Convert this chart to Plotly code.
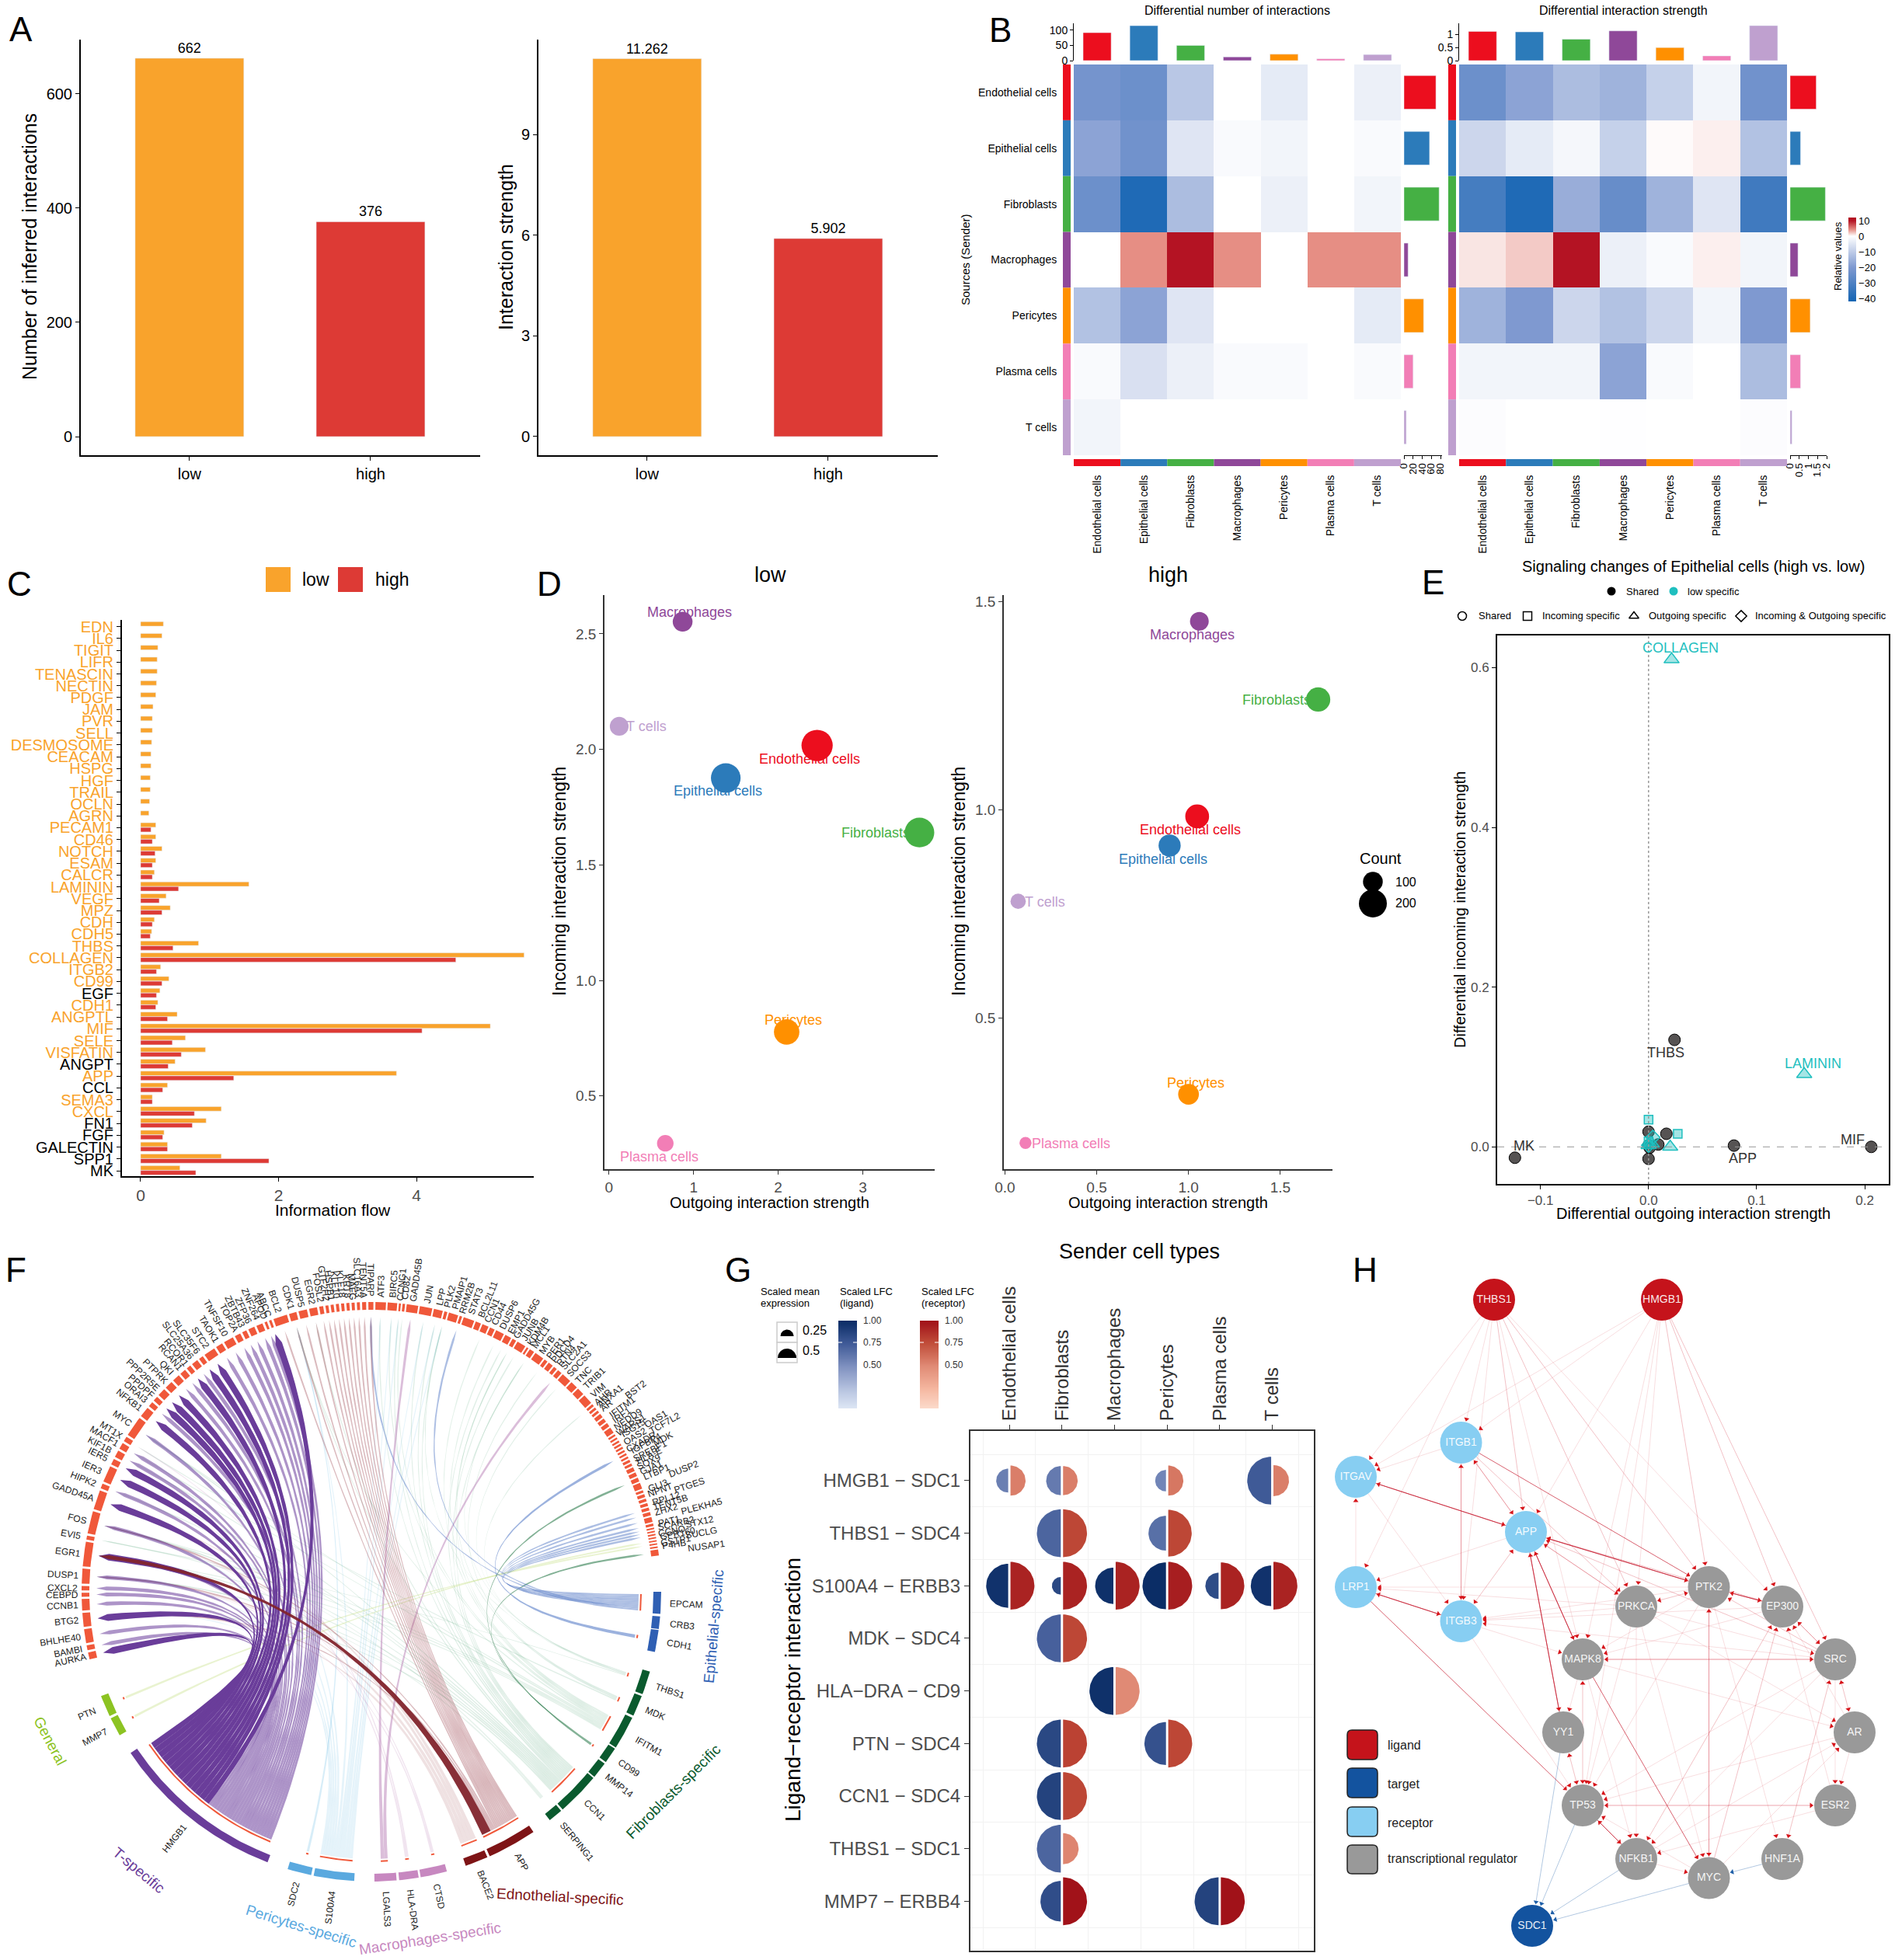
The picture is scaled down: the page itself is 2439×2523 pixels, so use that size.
import math
import plotly.graph_objects as go
from plotly.colors import sample_colorscale

W, H = 2439, 2523
FONT = "Liberation Sans"

## Panel A ##
groups = ["low", "high"]
interaction_count = [662, 376]
interaction_strength = [11.262, 5.902]
group_colors = ["#F9A32C", "#DD3A35"]

## Panel B ##
cell_types = ["Endothelial cells", "Epithelial cells", "Fibroblasts", "Macrophages", "Pericytes", "Plasma cells", "T cells"]
cell_colors = ["#EC0E1E", "#2C7BBA", "#45B044", "#8F4899", "#FF9000", "#F27EB6", "#BFA0CF"]
diff_number = [
    [-22, -24, -11, 0, -4, 0, -3],
    [-18, -23, -5, -1, -2, 0, -1],
    [-24, -40, -13, 0, -3, 0, -2],
    [0, 4.3, 10, 4.3, 0, 4.3, 4.3],
    [-12, -18, -5, 0, 0, 0, -4],
    [-1, -6, -3, -1, -1, 0, -1],
    [-2, 0, 0, 0, 0, 0, 0],
]
diff_strength = [
    [-24, -18, -13, -15, -9, -2, -23],
    [-8, -4, -1.5, -9, 0.2, 0.6, -12],
    [-32, -40, -16, -25, -15, -5, -33],
    [1, 2, 10, -3, -1, 0.6, -2],
    [-15, -20, -8, -12, -8, -2, -20],
    [-2, -2, -2, -18, -1, 0, -13],
    [-0.5, 0, 0, -0.2, 0, 0, -0.5],
]
number_top = [92, 115, 50, 12, 21, 6, 20]
number_side = [70, 56, 77, 9, 43, 20, 5]
strength_top = [1.12, 1.1, 0.82, 1.14, 0.5, 0.18, 1.34]
strength_side = [1.43, 0.57, 1.93, 0.43, 1.1, 0.57, 0.1]

## Panel C ##
pathways = ["EDN", "IL6", "TIGIT", "LIFR", "TENASCIN", "NECTIN", "PDGF", "JAM", "PVR", "SELL", "DESMOSOME", "CEACAM",
            "HSPG", "HGF", "TRAIL", "OCLN", "AGRN", "PECAM1", "CD46", "NOTCH", "ESAM", "CALCR", "LAMININ", "VEGF", "MPZ",
            "CDH", "CDH5", "THBS", "COLLAGEN", "ITGB2", "CD99", "EGF", "CDH1", "ANGPTL", "MIF", "SELE", "VISFATIN",
            "ANGPT", "APP", "CCL", "SEMA3", "CXCL", "FN1", "FGF", "GALECTIN", "SPP1", "MK"]
black_pathways = ["EGF", "ANGPT", "CCL", "FN1", "FGF", "GALECTIN", "SPP1", "MK"]
flow_low = [0.33, 0.31, 0.25, 0.24, 0.24, 0.23, 0.22, 0.18, 0.17, 0.17, 0.16, 0.15, 0.15, 0.14, 0.14, 0.13, 0.12,
            0.22, 0.22, 0.31, 0.22, 0.2, 1.57, 0.37, 0.43, 0.2, 0.16, 0.84, 5.56, 0.29, 0.41, 0.28, 0.25, 0.53, 5.07,
            0.65, 0.94, 0.5, 3.71, 0.39, 0.17, 1.17, 0.95, 0.34, 0.39, 1.17, 0.57]
flow_high = [None] * 17 + [0.15, 0.17, 0.21, 0.17, 0.17, 0.55, 0.27, 0.31, 0.17, 0.14, 0.47, 4.57, 0.23, 0.31, 0.23,
                           0.22, 0.39, 4.08, 0.46, 0.59, 0.4, 1.35, 0.32, 0.17, 0.78, 0.75, 0.32, 0.39, 1.86, 0.8]

## Panel D ##
low_out = [2.46, 1.38, 3.67, 0.87, 2.10, 0.665, 0.12]
low_in = [2.017, 1.876, 1.64, 2.553, 0.777, 0.295, 2.10]
low_count = [250, 225, 225, 100, 165, 70, 90]
low_label_x = [2.37, 1.29, 3.15, 0.95, 2.18, 0.59, 0.44]
low_label_y = [1.96, 1.82, 1.64, 2.594, 0.83, 0.236, 2.10]
high_out = [1.047, 0.897, 1.706, 1.059, 1.0, 0.112, 0.072]
high_in = [0.984, 0.914, 1.265, 1.453, 0.316, 0.199, 0.78]
high_count = [145, 125, 150, 90, 110, 37, 60]
high_label_x = [1.01, 0.86, 1.48, 1.02, 1.04, 0.36, 0.22]
high_label_y = [0.952, 0.881, 1.264, 1.421, 0.344, 0.197, 0.778]
legend_count = [100, 200]

## Panel E ##
shared_x = [-0.1236, 0.024, 0.079, 0.206, 0.0, 0.0, 0.0165, 0.009, 0.0, 0.001]
shared_y = [-0.0136, 0.134, 0.0016, 0.0, -0.015, 0.019, 0.0164, 0.003, 0.002, -0.001]
triangle_x = [0.0213, 0.144, 0.02, 0.0, 0.003]
triangle_y = [0.6104, 0.091, 0.0, 0.002, 0.004]
square_x = [0.0, 0.027, 0.0]
square_y = [0.034, 0.0164, 0.007]
diamond_x = [0.004, 0.0]
diamond_y = [0.012, 0.002]
e_labels = ["COLLAGEN", "LAMININ", "THBS", "MK", "APP", "MIF"]
e_label_x = [0.0293, 0.152, 0.016, -0.115, 0.087, 0.189]
e_label_y = [0.625, 0.104, 0.118, 0.001, -0.014, 0.0095]
e_label_colors = ["#1FBFBF", "#1FBFBF", "#333333", "#333333", "#333333", "#333333"]

## Panel F ##
left_genes = ["AURKA", "BAMBI", "BHLHE40", "BTG2", "CCNB1", "CEBPD", "CXCL2", "DUSP1", "EGR1", "EVI5", "FOS", "GADD45A",
              "HIPK2", "IER3", "IER5", "KIF1B", "MACF1", "MT1X", "MYC", "NFKB1", "ORAI3", "PPDPF", "PPP2R5E", "PTPRK",
              "QKI", "RCAN1", "RCOR1", "SLC25A36", "SLC35F6", "STC2", "TAOK1", "TNFSF10", "TOP2A", "ZBTB43", "ZFP36",
              "ZNF264", "APOD", "ABCC", "BCL2", "CDK1", "DUSP5", "EGR2", "FOSL2", "GTF2H2", "HSPB1", "KLF10", "KLF18",
              "KRT8", "MAFG", "SLC16A3", "TENT5A", "TIPARP"]
left_widths = [1.4, 1.0, 2.8, 2.8, 2.3, 0.8, 0.9, 3.0, 4.9, 0.8, 4.5, 3.9, 1.0, 3.3, 1.2, 1.4, 1.3, 1.0, 4.1, 2.1, 1.0,
               1.0, 1.6, 1.6, 1.5, 1.2, 0.9, 1.3, 0.9, 2.3, 1.4, 2.0, 1.2, 0.9, 1.3, 1.3, 0.5, 0.5, 2.8, 1.5, 1.7, 1.6,
               0.8, 0.6, 0.6, 0.6, 0.6, 0.6, 0.6, 0.6, 0.8, 1.0]
right_genes = ["ATF3", "BIRC5", "CCNG1", "CD82", "GADD45B", "JUN", "LPP", "PLK2", "PMAIP1", "RRM2B", "STAT3", "BCL2L11",
               "CCN1", "CD44", "DUSP6", "EMP1", "GADD45G", "JUNB", "KDM4B", "MCL1", "MYB", "PER1", "PDCD4", "RTN4",
               "SLC2A1", "SOCS3", "TNC", "TRIB1", "VIM", "AHR", "ANXA1", "AR", "BST2", "IFITM1", "IRF1", "NEDD9", "WARS1",
               "ISG15", "OAS1", "OAS2", "TCF7L2", "CXADR", "IGFBP4", "MDK", "SREBF1", "HLA-E", "SOX9", "GJA1", "LTBP1",
               "DUSP2", "GLI3", "NPNT", "PTGES", "RPL12", "TENT5B", "ZHX2", "PLEKHA5", "PAT1", "SCARB2", "STX12", "CCNO",
               "GPR160", "SUCLG", "GSTP1", "P4HB", "NUSAP1"]
right_widths = [2.1, 1.9, 0.4, 0.5, 2.3, 2.5, 1.8, 0.6, 1.9, 0.5, 2.2, 1.1, 1.3, 1.0, 1.7, 1.3, 0.8, 1.8, 0.4, 1.0, 1.9,
                0.7, 1.0, 0.7, 0.9, 2.0, 1.5, 1.5, 2.0, 0.5, 0.5, 0.5, 0.8, 0.8, 0.8, 1.2, 0.4, 0.4, 0.4, 0.4, 0.4, 0.4,
                0.4, 0.4, 0.5, 0.5, 0.8, 0.8, 0.8, 1.2, 0.5, 0.6, 0.6, 0.6, 0.6, 0.7, 1.0, 0.5, 0.3, 0.3, 0.3, 0.3, 0.3,
                0.3, 0.3, 1.2]
far_genes = ["BST2", "OAS1", "TCF7L2", "MDK", "DUSP2", "PTGES", "PLEKHA5", "STX12", "SUCLG", "NUSAP1"]
source_genes = ["EPCAM", "CRB3", "CDH1", "THBS1", "MDK", "IFITM1", "CD99", "MMP14", "CCN1", "SERPING1", "APP", "BACE2",
                "CTSD", "HLA-DRA", "LGALS3", "S100A4", "SDC2", "HMGB1", "MMP7", "PTN"]
source_start = [90.0, 94.9, 97.6, 106.0, 111.1, 115.8, 122.8, 126.4, 130.0, 139.1, 146.0, 156.4, 164.9, 170.6, 175.0, 183.4, 192.0, 201.0, 240.3, 244.6]
source_end = [94.4, 97.4, 102.0, 110.7, 115.3, 122.5, 126.0, 129.7, 138.7, 142.0, 155.9, 161.0, 170.2, 174.5, 179.4, 191.5, 196.8, 236.2, 244.1, 248.9]
source_colors = ["#2F5FB3"] * 3 + ["#0A5A2E"] * 7 + ["#7E1416"] * 2 + ["#C788C0"] * 3 + ["#5AA9DF"] * 2 + ["#6A3D9A"] + ["#8CC322"] * 2
hmgb1_dark = ["AURKA", "BTG2", "EGR1", "GADD45A", "IER3", "IER5", "NFKB1", "PPDPF", "PPP2R5E", "PTPRK", "RCOR1", "SLC35F6", "STC2", "ABCC"]
hmgb1_light = ["BAMBI", "BHLHE40", "CCNB1", "CEBPD", "CXCL2", "DUSP1", "EGR1", "FOS", "GADD45A", "HIPK2", "KIF1B", "MACF1", "MYC",
               "ORAI3", "QKI", "RCAN1", "SLC25A36", "TAOK1", "TNFSF10", "TOP2A", "ZBTB43", "ZFP36", "ZNF264", "APOD"]
app_top = ["BCL2", "CDK1", "DUSP5", "EGR2", "FOSL2", "GTF2H2", "HSPB1", "KLF10", "KLF18", "KRT8", "MAFG", "SLC16A3", "TENT5A", "TIPARP", "FOS", "DUSP1", "BTG2"]
s100a4_links = ["ATF3", "BIRC5", "CCNG1", "JUN", "LPP", "MYC", "IER3", "FOS", "DUSP1", "CDK1", "BTG2", "PLK2"]
epcam_links = ["TENT5B", "ZHX2", "PLEKHA5", "PAT1", "SCARB2", "STX12", "CCNO", "RRM2B", "TIPARP"]
ccn1_links = ["ATF3", "CCNG1", "JUN", "LPP", "PLK2", "EMP1", "JUNB", "CDK1", "EGR2", "IER3", "FOS", "EGR1", "MYC", "KIF1B", "HIPK2", "BTG2", "DUSP1", "MCL1"]
ifitm1_links = ["BIRC5", "CD82", "CCN1", "DUSP6", "GADD45G", "EVI5", "FOS", "MYC", "MACF1", "EGR1", "CDK1"]
chord_groups = ["General", "T-specific", "Pericytes-specific", "Macrophages-specific", "Ednothelial-specific", "Fibroblasts-specific", "Epithelial-specific"]

## Panel G ##
senders = ["Endothelial cells", "Fibroblasts", "Macrophages", "Pericytes", "Plasma cells", "T cells"]
lr_pairs = ["HMGB1 \u2212 SDC1", "THBS1 \u2212 SDC4", "S100A4 \u2212 ERBB3", "MDK \u2212 SDC4", "HLA\u2212DRA \u2212 CD9",
            "PTN \u2212 SDC4", "CCN1 \u2212 SDC4", "THBS1 \u2212 SDC1", "MMP7 \u2212 ERBB4"]
lr_row = [0, 0, 0, 0, 1, 1, 2, 2, 2, 2, 2, 2, 3, 4, 5, 5, 6, 7, 8, 8]
lr_col = [0, 1, 3, 5, 1, 3, 0, 1, 2, 3, 4, 5, 1, 2, 1, 3, 1, 1, 1, 4]
ligand_expr = [0.5, 0.61, 0.45, 1.0, 1.0, 0.73, 0.92, 0.37, 0.76, 0.98, 0.55, 0.85, 1.0, 1.0, 1.0, 0.9, 1.0, 1.0, 0.85, 1.0]
receptor_expr = [0.63, 0.61, 0.63, 0.65, 1.0, 0.98, 1.0, 1.0, 1.0, 1.0, 0.98, 1.0, 1.0, 1.0, 1.0, 1.0, 1.0, 0.65, 1.0, 1.0]
ligand_lfc = [0.58, 0.6, 0.55, 0.75, 0.7, 0.65, 0.97, 0.85, 0.98, 1.0, 0.83, 0.97, 0.72, 0.98, 0.85, 0.8, 0.88, 0.7, 0.82, 0.88]
receptor_lfc = [0.55, 0.55, 0.58, 0.55, 0.78, 0.78, 0.93, 0.93, 0.93, 0.95, 0.93, 0.93, 0.78, 0.5, 0.8, 0.78, 0.78, 0.52, 1.0, 1.0]
lfc_levels = [1.0, 0.9, 0.8, 0.7, 0.6, 0.5, 0.4, 0.3, 0.2, 0.1, 0.03]

## Panel H ##
node_names = ["THBS1", "HMGB1", "ITGB1", "ITGAV", "APP", "LRP1", "ITGB3", "PTK2", "PRKCA", "EP300", "MAPK8", "SRC", "YY1",
              "AR", "TP53", "ESR2", "NFKB1", "HNF1A", "MYC", "SDC1"]
node_x = [1923, 2139, 1880.5, 1745, 1964, 1745, 1880.5, 2199.5, 2106, 2294, 2037, 2362, 2012, 2387, 2037, 2362, 2106, 2294, 2199.5, 1972]
node_y = [1673, 1673, 1857, 1901, 1972, 2043, 2087, 2043, 2068, 2068, 2136, 2136, 2230, 2230, 2324, 2324, 2393, 2393, 2417.5, 2479]
node_kind = ["ligand"] * 2 + ["receptor"] * 5 + ["transcriptional regulator"] * 12 + ["target"]
kind_colors = {"ligand": "#C5131B", "target": "#13539F", "receptor": "#87CEF2", "transcriptional regulator": "#999999"}
faint_edges = [("THBS1", "ITGAV"), ("THBS1", "LRP1"), ("THBS1", "ITGB1"), ("THBS1", "ITGB3"), ("THBS1", "MAPK8"), ("THBS1", "EP300"),
               ("HMGB1", "ITGAV"), ("HMGB1", "ITGB1"), ("HMGB1", "APP"), ("HMGB1", "MAPK8"), ("HMGB1", "TP53"), ("HMGB1", "PRKCA"),
               ("ITGB1", "ITGAV"), ("ITGAV", "ITGB3"), ("LRP1", "ITGAV"), ("APP", "LRP1"), ("APP", "ITGB3"), ("ITGB3", "APP"),
               ("PRKCA", "LRP1"), ("PTK2", "LRP1"), ("ITGB3", "MAPK8"), ("ITGB3", "TP53"), ("PRKCA", "ITGB3"), ("PTK2", "ITGB3"),
               ("EP300", "ITGB3"), ("SRC", "ITGB3"), ("PTK2", "PRKCA"), ("PRKCA", "PTK2"), ("PTK2", "MAPK8"), ("PTK2", "TP53"),
               ("EP300", "MAPK8"), ("NFKB1", "EP300"), ("ESR2", "EP300"), ("PRKCA", "TP53"), ("PRKCA", "NFKB1"), ("PRKCA", "MYC"),
               ("PRKCA", "SRC"), ("PRKCA", "AR"), ("MAPK8", "NFKB1"), ("MAPK8", "TP53"), ("MAPK8", "YY1"), ("MAPK8", "AR"),
               ("SRC", "TP53"), ("SRC", "NFKB1"), ("SRC", "ESR2"), ("AR", "EP300"), ("AR", "ESR2"), ("AR", "TP53"), ("NFKB1", "AR"),
               ("MYC", "AR"), ("ESR2", "TP53"), ("MYC", "TP53"), ("NFKB1", "MYC"), ("ESR2", "NFKB1"), ("YY1", "TP53"), ("TP53", "YY1"),
               ("SRC", "AR"), ("AR", "SRC"), ("HNF1A", "SRC"), ("PTK2", "HNF1A"), ("SRC", "HNF1A"), ("EP300", "NFKB1"), ("TP53", "MAPK8")]
mid_edges = [("THBS1", "APP"), ("THBS1", "PTK2"), ("THBS1", "PRKCA"), ("HMGB1", "PTK2"), ("HMGB1", "EP300"), ("HMGB1", "SRC"),
             ("ITGB1", "APP"), ("APP", "ITGB1"), ("ITGB1", "ITGB3"), ("ITGB3", "ITGB1"), ("ITGB1", "PRKCA"), ("APP", "PRKCA"),
             ("PRKCA", "APP"), ("EP300", "APP"), ("SRC", "APP"), ("MYC", "PTK2"), ("PTK2", "MYC"), ("MYC", "EP300"), ("SRC", "PTK2"),
             ("SRC", "MAPK8"), ("MAPK8", "SRC"), ("EP300", "SRC"), ("SRC", "EP300"), ("TP53", "ESR2")]
strong_edges = [("ITGAV", "APP"), ("APP", "ITGAV"), ("ITGB1", "PTK2"), ("APP", "PTK2"), ("PTK2", "APP"), ("APP", "MAPK8"), ("MAPK8", "APP"),
                ("APP", "YY1"), ("YY1", "APP"), ("LRP1", "ITGB3"), ("ITGB3", "LRP1"), ("LRP1", "TP53"), ("PTK2", "EP300"), ("EP300", "PTK2"),
                ("MAPK8", "MYC"), ("TP53", "NFKB1"), ("NFKB1", "TP53")]
blue_edges = [("YY1", "SDC1"), ("TP53", "SDC1"), ("NFKB1", "SDC1"), ("MYC", "SDC1"), ("HNF1A", "MYC")]

ALL_AXES = {}
fig = go.Figure()
shapes = []
notes = []
n_axes = 0


def axes(x0, x1, y0, y1, xr, yr, xkw=None, ykw=None):
    # one pair of axes placed in page pixels
    global n_axes
    n_axes += 1
    s = "" if n_axes == 1 else str(n_axes)
    xa = dict(domain=[x0 / W, x1 / W], range=xr, showgrid=False, zeroline=False, anchor="y" + s, fixedrange=True, visible=False)
    ya = dict(domain=[1 - y1 / H, 1 - y0 / H], range=yr, showgrid=False, zeroline=False, anchor="x" + s, fixedrange=True, visible=False)
    xa.update(xkw or {})
    ya.update(ykw or {})
    ALL_AXES["xaxis" + s] = xa
    ALL_AXES["yaxis" + s] = ya
    return "x" + s, "y" + s


def note(x, y, text, size=16, color="black", angle=0, anchor="center", va="middle"):
    notes.append(dict(x=x / W, y=1 - y / H, xref="paper", yref="paper", text=text, showarrow=False, textangle=angle,
                      xanchor=anchor, yanchor=va, font=dict(size=size, color=color, family=FONT)))


def axis_style(size=18, color="#4d4d4d", line="black", width=2, **kw):
    d = dict(visible=True, showline=True, linecolor=line, linewidth=width, ticks="outside", ticklen=5, tickcolor=line,
             tickfont=dict(size=size, color=color, family=FONT))
    d.update(kw)
    return d


def page_rect(x0, y0, x1, y1, fill, line=None, rounded=False, layer="above"):
    if rounded:
        r = 6
        X0, X1, a, b = x0 / W, x1 / W, 1 - y0 / H, 1 - y1 / H
        dx, dy = r / W, r / H
        path = (f"M {X0+dx} {a} L {X1-dx} {a} Q {X1} {a} {X1} {a-dy} L {X1} {b+dy} Q {X1} {b} {X1-dx} {b} "
                f"L {X0+dx} {b} Q {X0} {b} {X0} {b+dy} L {X0} {a-dy} Q {X0} {a} {X0+dx} {a} Z")
        shapes.append(dict(type="path", path=path, xref="paper", yref="paper", fillcolor=fill, line=dict(color=line or fill, width=1.5)))
    else:
        shapes.append(dict(type="rect", xref="paper", yref="paper", x0=x0 / W, x1=x1 / W, y0=1 - y0 / H, y1=1 - y1 / H, layer=layer,
                           fillcolor=fill, line=dict(color=line or fill, width=1.5 if line else 0)))


## A ##
xa, ya = axes(104, 618, 51, 586, [-0.6, 1.605], [-32.6, 694.6],
              axis_style(size=20, color="black", tickvals=[0, 1], ticktext=groups),
              axis_style(size=20, color="black", tickvals=[0, 200, 400, 600]))
fig.add_trace(go.Bar(x=[0, 1], y=interaction_count, width=0.6, marker_color=group_colors, text=interaction_count, textposition="outside",
                     textfont=dict(size=18, family=FONT, color="black"), cliponaxis=False, xaxis=xa, yaxis=ya))
xa, ya = axes(693, 1207, 51, 586, [-0.6, 1.605], [-0.556, 11.83],
              axis_style(size=20, color="black", tickvals=[0, 1], ticktext=groups),
              axis_style(size=20, color="black", tickvals=[0, 3, 6, 9]))
fig.add_trace(go.Bar(x=[0, 1], y=interaction_strength, width=0.6, marker_color=group_colors, text=["11.262", "5.902"], textposition="outside",
                     textfont=dict(size=18, family=FONT, color="black"), cliponaxis=False, xaxis=xa, yaxis=ya))
note(38, 318, "Number of inferred interactions", 25, angle=-90)
note(651, 318, "Interaction strength", 25, angle=-90)

## B ##
blue_red = [[0, "#1565B3"], [0.407, "#7F99D0"], [0.778, "#FFFFFF"], [0.857, "#E68E84"], [0.963, "#B41323"], [1, "#B41323"]]
for k, (x0, x1, z, top, side, top_max, side_max, top_ticks, side_ticks, side_x1) in enumerate([
        (1382, 1803, diff_number, number_top, number_side, 123, 83.4, [0, 50, 100], [0, 20, 40, 60, 80], 1856),
        (1878, 2300, diff_strength, strength_top, strength_side, 1.43, 2.0, [0, 0.5, 1], [0, 0.5, 1, 1.5, 2], 2351)]):
    ykw = dict(visible=True, showline=False, type="category", categoryorder="array", categoryarray=cell_types,
               showticklabels=(k == 0), ticks="outside", ticklen=18, tickcolor="rgba(0,0,0,0)",
               tickfont=dict(size=14, color="black", family=FONT))
    xkw = dict(visible=True, showline=False, type="category", categoryorder="array", categoryarray=cell_types, tickangle=-90,
               ticks="outside", ticklen=19, tickcolor="rgba(0,0,0,0)", tickfont=dict(size=14, color="black", family=FONT))
    xa, ya = axes(x0, x1, 83, 586, [-0.5, 6.5], [6.5, -0.5], xkw, ykw)
    trace = go.Heatmap(z=z, x=cell_types, y=cell_types, colorscale=blue_red, zmin=-42, zmax=12, xaxis=xa, yaxis=ya, showscale=(k == 0))
    if k == 0:
        trace.colorbar = dict(x=2379 / W, xanchor="left", y=1 - 334 / H, yanchor="middle", lenmode="pixels", len=108, thickness=10,
                              xpad=0, ypad=0, outlinewidth=0, ticks="", tickvals=[-40, -30, -20, -10, 0, 10],
                              tickfont=dict(size=13, color="black", family=FONT))
    fig.add_trace(trace)
    for i, col in enumerate(cell_colors):
        shapes.append(dict(type="rect", xref=xa, yref="paper", x0=i - 0.5, x1=i + 0.5, y0=1 - 600 / H, y1=1 - 591 / H, fillcolor=col, line_width=0))
        shapes.append(dict(type="rect", xref="paper", yref=ya, x0=(x0 - 14) / W, x1=(x0 - 4) / W, y0=i - 0.5, y1=i + 0.5, fillcolor=col, line_width=0))
    xt, yt = axes(x0, x1, 30, 78, [-0.5, 6.5], [0, top_max], dict(visible=False),
                  axis_style(size=14, color="black", width=1, tickvals=top_ticks, ticklen=4))
    fig.add_trace(go.Bar(x=list(range(7)), y=top, width=0.6, marker_color=cell_colors, xaxis=xt, yaxis=yt))
    xs, ys = axes(x1 + 4, side_x1, 83, 586, [0, side_max], [6.5, -0.5],
                  axis_style(size=13, color="black", width=1, tickvals=side_ticks, tickangle=-90, ticklen=4), dict(visible=False))
    fig.add_trace(go.Bar(y=list(range(7)), x=side, orientation="h", width=0.6, marker_color=cell_colors, xaxis=xs, yaxis=ys))
note(1592, 13, "Differential number of interactions", 16)
note(2089, 13, "Differential interaction strength", 16)
note(1243, 334, "Sources (Sender)", 15, angle=-90)
note(2365, 330, "Relative values", 13, angle=-90)

## C ##
tick_html = [f'<span style="color:{"black" if p in black_pathways else "#F9A32C"}">{p}</span>' for p in pathways]
xa, ya = axes(157, 687, 797.5, 1514, [-0.27, 5.70], [46.46, -0.6],
              axis_style(size=21, tickvals=[0, 2, 4]),
              axis_style(size=20, color="black", type="category", categoryorder="array", categoryarray=pathways,
                         tickmode="array", tickvals=pathways, ticktext=tick_html))
fig.add_trace(go.Bar(y=pathways, x=flow_low, orientation="h", width=0.38, offset=-0.42, marker_color=group_colors[0], xaxis=xa, yaxis=ya))
fig.add_trace(go.Bar(y=pathways, x=flow_high, orientation="h", width=0.38, offset=-0.02, marker_color=group_colors[1], xaxis=xa, yaxis=ya))
page_rect(342, 730, 374, 762, group_colors[0])
page_rect(435, 730, 467, 762, group_colors[1])
note(387, 746, "low", 23, anchor="left")
note(481, 746, "high", 23, anchor="left")
note(428, 1557, "Information flow", 21)

## D ##
for x0, x1, xr, yr, xt, yt, xs, ys, cnt, lx, ly, ttl in [
        (778, 1203, [-0.054, 3.85], [0.183, 2.668], [0, 1, 2, 3], [0.5, 1.0, 1.5, 2.0, 2.5], low_out, low_in, low_count, low_label_x, low_label_y, "low"),
        (1292, 1715, [-0.006, 1.784], [0.136, 1.516], [0.0, 0.5, 1.0, 1.5], [0.5, 1.0, 1.5], high_out, high_in, high_count, high_label_x, high_label_y, "high")]:
    xa, ya = axes(x0, x1, 766, 1505, xr, yr,
                  axis_style(size=19, line="#333333", width=1.5, tickvals=xt, tickformat=".1f" if ttl == "high" else "d"),
                  axis_style(size=19, line="#333333", width=1.5, tickvals=yt, tickformat=".1f"))
    fig.add_trace(go.Scatter(x=xs, y=ys, mode="markers", xaxis=xa, yaxis=ya, cliponaxis=False,
                             marker=dict(size=cnt, sizemode="area", sizeref=1 / 3.24, color=cell_colors, opacity=1, line_width=0)))
    for name, c, px_, py_ in zip(cell_types, cell_colors, lx, ly):
        notes.append(dict(x=px_, y=py_, xref=xa, yref=ya, text=name, showarrow=False, font=dict(size=18, color=c, family=FONT)))
    note((x0 + x1) / 2 + 1 if ttl == "low" else (x0 + x1) / 2, 740, ttl, 27)
    note((x0 + x1) / 2, 1548, "Outgoing interaction strength", 20)
note(720, 1135, "Incoming interaction strength", 23, angle=-90)
note(1234, 1135, "Incoming interaction strength", 23, angle=-90)
xa, ya = axes(1750, 1784, 1120, 1178, [0, 1], [1, 0])
fig.add_trace(go.Scatter(x=[0.5, 0.5], y=[0.26, 0.74], mode="markers", xaxis=xa, yaxis=ya, cliponaxis=False,
                         marker=dict(size=legend_count, sizemode="area", sizeref=1 / 3.24, color="black", opacity=1, line_width=0)))
note(1777, 1105, "Count", 20)
note(1794, 1135, "100", 16, anchor="left")
note(1794, 1162, "200", 16, anchor="left")

## E ##
xa, ya = axes(1927, 2431, 818, 1524, [-0.14, 0.2222], [-0.0464, 0.6404],
              axis_style(size=17, mirror=True, tickvals=[-0.1, 0, 0.1, 0.2], tickformat=".1f"),
              axis_style(size=17, mirror=True, tickvals=[0, 0.2, 0.4, 0.6], tickformat=".1f"))
shapes.append(dict(type="line", xref=xa, yref=ya + " domain", x0=0, x1=0, y0=0, y1=1, line=dict(color="#999999", width=1.5, dash="dot")))
shapes.append(dict(type="line", xref=xa + " domain", yref=ya, x0=0, x1=1, y0=0, y1=0, line=dict(color="#999999", width=1, dash="dash")))
fig.add_trace(go.Scatter(x=shared_x, y=shared_y, mode="markers", xaxis=xa, yaxis=ya,
                         marker=dict(size=15, color="rgba(30,25,25,0.75)", line=dict(color="black", width=1))))
teal_fill, teal = "rgba(31,191,191,0.4)", "#1FBFBF"
for mx, my, sym, sz in [(square_x, square_y, "square", 11), (diamond_x, diamond_y, "diamond", 14), (triangle_x, triangle_y, "triangle-up", 17)]:
    fig.add_trace(go.Scatter(x=mx, y=my, mode="markers", xaxis=xa, yaxis=ya,
                             marker=dict(size=sz, symbol=sym, color=teal_fill, line=dict(color=teal, width=1.5))))
for t, lx, ly, c in zip(e_labels, e_label_x, e_label_y, e_label_colors):
    notes.append(dict(x=lx, y=ly, xref=xa, yref=ya, text=t, showarrow=False, font=dict(size=18, color=c, family=FONT)))
note(2179, 729, "Signaling changes of Epithelial cells (high vs. low)", 20)
note(2179, 1562, "Differential outgoing interaction strength", 20)
note(1879, 1171, "Differential incoming interaction strength", 20, angle=-90)
note(2114, 761, "Shared", 13)
note(2205, 761, "low specific", 13)
note(1924, 793, "Shared", 13)
note(2035, 793, "Incoming specific", 13)
note(2172, 793, "Outgoing specific", 13)
note(2343, 793, "Incoming &amp; Outgoing specific", 13)

## G ##
blue_scale = [[0, "#E4ECF8"], [0.25, "#B5C2DF"], [0.5, "#7E90BF"], [0.75, "#3F5A97"], [1, "#0B2D66"]]
red_scale = [[0, "#FDE0D2"], [0.25, "#F5B7A0"], [0.5, "#E08A75"], [0.75, "#C14E3A"], [1, "#A11219"]]
half_ticks = [i + 0.5 for i in range(-1, 6)]
xa, ya = axes(1249, 1691, 1842, 2511, [-0.74, 5.79], [8.94, -0.945],
              axis_style(size=24, color="#333333", line="#333333", side="top", mirror=True, tickangle=-90, tickvals=list(range(6)), ticktext=senders,
                         ticklen=6, showgrid=False, minor=dict(tickvals=half_ticks, showgrid=True, gridcolor="#F2F2F2", gridwidth=1, ticks="")),
              axis_style(size=24, color="#4d4d4d", line="#333333", mirror=True, tickvals=list(range(9)), ticktext=lr_pairs,
                         ticklen=6, minor=dict(tickvals=[i + 0.5 for i in range(-1, 9)], showgrid=True, gridcolor="#F2F2F2", gridwidth=1, ticks="")))


def half_disc(cx, cy, r, side, color, xa, ya):
    ts = [math.radians(90 + 180 * i / 40) for i in range(41)]
    xs = [cx + side * abs(math.cos(t)) * r for t in ts]
    ys = [cy + math.sin(t) * r for t in ts]
    fig.add_trace(go.Scatter(x=xs, y=ys, mode="lines", fill="toself", fillcolor=color, line=dict(width=0), xaxis=xa, yaxis=ya))


for r_, c_, le, re_, ll, rl in zip(lr_row, lr_col, ligand_expr, receptor_expr, ligand_lfc, receptor_lfc):
    half_disc(c_ - 0.022, r_, 0.455 * le, -1, sample_colorscale(blue_scale, [ll])[0], xa, ya)
    half_disc(c_ + 0.022, r_, 0.455 * re_, 1, sample_colorscale(red_scale, [rl])[0], xa, ya)
note(1466, 1611, "Sender cell types", 27)
note(1020, 2175, "Ligand\u2212receptor interaction", 28, angle=-90)
for x0, scale, label in [(1079, blue_scale, ["Scaled LFC", "(ligand)"]), (1184, red_scale, ["Scaled LFC", "(receptor)"])]:
    xb, yb = axes(x0, x0 + 24, 1700, 1813, [0, 1], [0.03, 1.0])
    fig.add_trace(go.Heatmap(z=[[v, v] for v in lfc_levels], y=lfc_levels, x=[0, 1], zsmooth="best", colorscale=scale, zmin=0, zmax=1, showscale=False, xaxis=xb, yaxis=yb))
    note(x0, 1662, label[0], 13, anchor="left")
    note(x0, 1677, label[1], 13, anchor="left")
    for t, yy in [("1.00", 1700), ("0.75", 1728), ("0.50", 1757)]:
        note(x0 + 30, yy, t, 12, color="#333333", anchor="left")
    shapes.append(dict(type="line", xref="paper", yref="paper", x0=x0 / W, x1=(x0 + 5) / W, y0=1 - 1728 / H, y1=1 - 1728 / H, line=dict(color="white", width=1)))
    shapes.append(dict(type="line", xref="paper", yref="paper", x0=(x0 + 19) / W, x1=(x0 + 24) / W, y0=1 - 1728 / H, y1=1 - 1728 / H, line=dict(color="white", width=1)))
note(977, 1662, "Scaled mean", 13, anchor="left")
note(977, 1677, "expression", 13, anchor="left")
page_rect(1000, 1702, 1026, 1728, "white", "#CCCCCC", layer="below")
page_rect(1000, 1728, 1026, 1754, "white", "#CCCCCC", layer="below")
note(1048, 1712, "0.25", 16)
note(1044, 1738, "0.5", 16)

## overlay in page pixels: panels F and H, legend keys ##
xp, yp = axes(0, W, 0, H, [0, W], [H, 0])

fig.add_trace(go.Scatter(x=[2074, 2154], y=[761, 761], mode="markers", xaxis=xp, yaxis=yp,
                         marker=dict(size=11, color=["black", teal])))
fig.add_trace(go.Scatter(x=[1882, 1966, 2103, 2241], y=[793, 793, 793, 793], mode="markers", xaxis=xp, yaxis=yp,
                         marker=dict(size=11, color="white", symbol=["circle", "square", "triangle-up", "diamond"], line=dict(color="black", width=1.5))))
for cy_, r_ in [(1720, 8.5), (1748, 12)]:
    ts = [math.pi + math.pi * i / 30 for i in range(31)]
    fig.add_trace(go.Scatter(x=[1013 + r_ * math.cos(t) for t in ts], y=[cy_ + r_ * math.sin(t) for t in ts], mode="lines", fill="toself",
                             fillcolor="black", line=dict(width=0), xaxis=xp, yaxis=yp))

CX, CY = 478, 2049
R_OUT, R_IN, R_ARC, R_SRC, R_TIP = 373, 363, 347, 344, 354
RING = "#F0583A"


def pol(theta, r):
    t = math.radians(theta)
    return CX + r * math.sin(t), CY - r * math.cos(t)


def band(a0, a1, r0, r1, color):
    n = max(3, int((a1 - a0) * 2))
    ang = [a0 + (a1 - a0) * i / n for i in range(n + 1)]
    pts = [pol(a, r1) for a in ang] + [pol(a, r0) for a in reversed(ang)]
    fig.add_trace(go.Scatter(x=[p[0] for p in pts], y=[p[1] for p in pts], mode="lines", fill="toself", fillcolor=color,
                             line=dict(width=0), xaxis=xp, yaxis=yp))


def curve(p, q, n=36):
    out = []
    for i in range(n + 1):
        t = i / n
        out.append(((1 - t) ** 2 * p[0] + 2 * t * (1 - t) * CX + t ** 2 * q[0], (1 - t) ** 2 * p[1] + 2 * t * (1 - t) * CY + t ** 2 * q[1]))
    return out


def ribbon(a0, a1, b, hw, color):
    dw = math.degrees(hw / R_TIP)
    p0, p1 = pol(a0, R_SRC), pol(a1, R_SRC)
    t_lo, t_hi = pol(b - dw, R_TIP - 13), pol(b + dw, R_TIP - 13)
    pts = curve(p1, t_lo) + [pol(b, R_TIP)] + list(reversed(curve(p0, t_hi)))
    fig.add_trace(go.Scatter(x=[p[0] for p in pts], y=[p[1] for p in pts], mode="lines", fill="toself", fillcolor=color,
                             line=dict(width=0), xaxis=xp, yaxis=yp))


def lay(genes, widths, start, end):
    gap = (end - start - sum(widths)) / (len(genes) - 1)
    out, a = {}, start
    for g, w_ in zip(genes, widths):
        out[g] = (a, a + w_)
        a += w_ + gap
    return out


ring = lay(left_genes, left_widths, 256.5, 360.4)
ring.update(lay(right_genes, right_widths, 360.8, 442.8))


def fan(a0, a1, targets, hw, color):
    # split a source arc between targets, nearest clockwise target first
    mid = (a0 + a1) / 2
    centres = [sum(ring[g]) / 2 for g in targets]
    order = sorted(range(len(targets)), key=lambda i: (centres[i] - mid) % 360)
    unit = (a1 - a0) / len(targets)
    hi = a1
    for i in order:
        lo = hi - unit
        ribbon(lo, hi, centres[i], hw, color)
        hi = lo


fan(140.0, 140.8, ["DUSP1", "FOS"], 0.6, "rgba(93,170,128,0.15)")
fan(107.5, 108.3, ["PLK2", "MCL1", "SOCS3", "AHR", "EVI5"], 0.7, "rgba(93,170,128,0.2)")
fan(113.0, 114.0, ["PER1", "GADD45G", "MT1X"], 0.7, "rgba(93,170,128,0.2)")
fan(117.5, 121.0, ifitm1_links, 0.8, "rgba(93,170,128,0.18)")
fan(131.0, 138.0, ccn1_links, 0.8, "rgba(93,170,128,0.2)")
fan(184.0, 191.0, s100a4_links, 0.8, "rgba(124,197,232,0.2)")
fan(193.5, 194.0, ["CDK1"], 0.8, "rgba(124,197,232,0.3)")
fan(166.5, 167.2, ["FOS", "DUSP1"], 0.7, "rgba(183,125,181,0.2)")
fan(172.0, 172.8, ["IER3", "MT1X"], 0.7, "rgba(183,125,181,0.2)")
fan(176.5, 178.0, ["GADD45B", "SLC2A1"], 1.8, "rgba(183,125,181,0.5)")
fan(157.0, 160.5, ["FOS", "DUSP1", "BTG2", "GADD45A"], 1.0, "rgba(176,106,112,0.2)")
fan(246.5, 247.0, ["GSTP1"], 1.2, "rgba(200,224,138,0.4)")
fan(242.0, 242.5, ["SUCLG"], 1.2, "rgba(200,224,138,0.4)")
fan(124.5, 125.0, ["LTBP1", "NUSAP1"], 1.4, "rgba(46,125,79,0.6)")
fan(90.5, 94.0, epcam_links, 1.4, "rgba(90,126,200,0.5)")
fan(99.2, 99.9, ["IGFBP4"], 1.8, "rgba(90,126,200,0.6)")
fan(147.0, 153.5, app_top, 1.2, "rgba(165,85,95,0.4)")
fan(202.0, 217.5, hmgb1_light, 2.6, "rgba(106,61,154,0.55)")
fan(217.5, 235.5, hmgb1_dark, 4.5, "rgba(106,61,154,1)")
fan(153.5, 155.5, ["EGR1"], 2.6, "rgba(130,36,44,0.95)")

for g, (a0, a1) in ring.items():
    band(a0, a1, R_IN, R_OUT, RING)
    mid = (a0 + a1) / 2 % 360
    size = 12
    length = len(g) * 0.62 * size
    shift = 34 if g in far_genes else 0
    xx, yy = pol(mid, R_OUT + 6 + shift + length / 2)
    note(xx, yy, g, size, color="#222222", angle=(mid - 90) if mid < 180 else (mid + 90))
for g, a0, a1, c in zip(source_genes, source_start, source_end, source_colors):
    band(a0, a1, R_IN, R_OUT, c)
    mid = (a0 + a1) / 2
    length = len(g) * 0.62 * 12
    xx, yy = pol(mid, R_OUT + 14 + length / 2)
    note(xx, yy, g, 12, color="#222222", angle=(mid - 90) if mid < 180 else (mid + 90))
for a0, a1 in [(90.5, 94.0), (99.2, 99.9), (107.5, 108.3), (113.0, 114.0), (117.5, 121.0), (124.5, 125.0), (131.0, 138.0), (147.0, 155.5),
               (157.0, 160.5), (166.5, 167.2), (172.0, 172.8), (176.5, 178.0), (184.0, 191.0), (193.5, 194.0), (202.0, 235.5), (242.0, 242.5), (246.5, 247.0)]:
    band(a0, a1, R_ARC - 1, R_ARC + 1, RING)
for t, c, x_, y_, ang in zip(chord_groups, ["#8CC322", "#6A3D9A", "#5AA9DF", "#C788C0", "#7E1416", "#0A5A2E", "#2F5FB3"],
                             [65, 179, 388, 553, 721, 866, 918], [2241, 2407, 2479, 2495, 2441, 2306, 2094], [62, 40, 17, -9, 3, -45, -85]):
    note(x_, y_, t, 19, color=c, angle=ang)

## H ##


def edge_layer(edges, color, tip_color, width, tip_size):
    lx, ly, tx, ty, ta = [], [], [], [], []
    for a, b in edges:
        i, j = node_names.index(a), node_names.index(b)
        dx, dy = node_x[j] - node_x[i], node_y[j] - node_y[i]
        d = math.hypot(dx, dy)
        ex, ey = node_x[j] - dx / d * 31, node_y[j] - dy / d * 31
        lx += [node_x[i], ex, None]
        ly += [node_y[i], ey, None]
        tx.append(ex)
        ty.append(ey)
        ta.append(math.degrees(math.atan2(dx, -dy)))
    fig.add_trace(go.Scatter(x=lx, y=ly, mode="lines", line=dict(color=color, width=width), xaxis=xp, yaxis=yp))
    fig.add_trace(go.Scatter(x=tx, y=ty, mode="markers", xaxis=xp, yaxis=yp,
                             marker=dict(symbol="triangle-up", size=tip_size, angle=ta, color=tip_color, line_width=0)))


edge_layer(faint_edges, "rgba(222,90,100,0.25)", "#D7141A", 0.8, 6)
edge_layer(mid_edges, "rgba(215,60,75,0.4)", "#D7141A", 0.8, 6)
edge_layer(strong_edges, "rgba(200,30,50,0.7)", "#D7141A", 1, 6)
edge_layer(blue_edges, "rgba(40,100,170,0.45)", "#1F5FA8", 0.8, 6)
fig.add_trace(go.Scatter(x=node_x, y=node_y, mode="markers+text", text=node_names, textposition="middle center", xaxis=xp, yaxis=yp,
                         textfont=dict(size=14, color="rgba(255,255,255,0.92)", family=FONT),
                         marker=dict(size=54, color=[kind_colors[k] for k in node_kind], line_width=0)))
for kind, y0, y1, ty_ in [("ligand", 2227, 2265, 2246), ("target", 2276, 2314, 2296), ("receptor", 2326, 2364, 2346), ("transcriptional regulator", 2375, 2412, 2392)]:
    page_rect(1734, y0, 1773, y1, kind_colors[kind], "#222222", rounded=True)
    note(1784, ty_, kind, 16, color="#222222", anchor="left")

## panel letters ##
for t, x_, y_ in zip("ABCDEFGH", [27, 1288, 25, 707, 1844, 20, 950, 1757], [37, 39, 751, 751, 750, 1634, 1634, 1634]):
    note(x_, y_, t, 44)

fig.update_layout(width=W, height=H, margin=dict(l=0, r=0, t=0, b=0, autoexpand=False), autosize=False, paper_bgcolor="white", plot_bgcolor="rgba(0,0,0,0)",
                  showlegend=False, barmode="overlay", font=dict(family=FONT), shapes=shapes, annotations=notes, **ALL_AXES)
fig.write_html("out.html", config=dict(displayModeBar=False), post_script="document.body.style.margin='0';")
